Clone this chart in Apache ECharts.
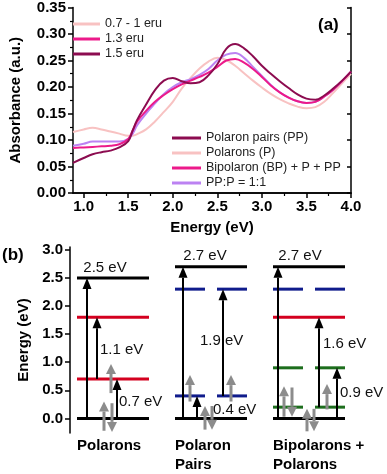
<!DOCTYPE html>
<html>
<head>
<meta charset="utf-8">
<script src="https://cdn.jsdelivr.net/npm/echarts@6/dist/echarts.min.js"></script>
<style>
html, body { margin: 0; padding: 0; background: #fff; }
#chart { width: 387px; height: 474px; }
</style>
</head>
<body>
<div id="chart"></div>
<script>
// (a) absorbance spectra
var energy = [0.88, 1.0, 1.1, 1.2, 1.3, 1.4, 1.5, 1.55, 1.6, 1.7, 1.8, 1.9, 2.0, 2.1, 2.2, 2.3, 2.4, 2.5, 2.6, 2.7, 2.8, 2.9, 3.0, 3.1, 3.2, 3.3, 3.4, 3.5, 3.6, 3.7, 3.8, 3.9, 4.0]
var ppAbs = [0.057, 0.066, 0.073, 0.077, 0.080, 0.086, 0.098, 0.118, 0.138, 0.167, 0.194, 0.212, 0.217, 0.211, 0.207, 0.209, 0.222, 0.243, 0.272, 0.281, 0.273, 0.258, 0.240, 0.225, 0.211, 0.198, 0.186, 0.178, 0.176, 0.184, 0.197, 0.212, 0.229]
var pAbs = [0.115, 0.120, 0.123, 0.120, 0.116, 0.112, 0.108, 0.108, 0.111, 0.120, 0.135, 0.153, 0.172, 0.197, 0.217, 0.235, 0.248, 0.255, 0.251, 0.240, 0.226, 0.212, 0.199, 0.187, 0.177, 0.169, 0.163, 0.160, 0.162, 0.172, 0.189, 0.207, 0.225]
var bpAbs = [0.085, 0.086, 0.087, 0.088, 0.089, 0.092, 0.102, 0.118, 0.135, 0.155, 0.172, 0.185, 0.196, 0.205, 0.212, 0.219, 0.227, 0.238, 0.250, 0.253, 0.246, 0.234, 0.219, 0.203, 0.190, 0.180, 0.173, 0.170, 0.172, 0.182, 0.195, 0.211, 0.229]
var mixAbs = [0.089, 0.093, 0.097, 0.097, 0.097, 0.097, 0.102, 0.112, 0.128, 0.150, 0.169, 0.187, 0.200, 0.209, 0.215, 0.223, 0.234, 0.250, 0.261, 0.264, 0.255, 0.238, 0.221, 0.204, 0.190, 0.180, 0.173, 0.170, 0.172, 0.182, 0.195, 0.211, 0.229]
var xTicks = [1.0, 1.5, 2.0, 2.5, 3.0, 3.5, 4.0]
var xMinorTicks = [1.25, 1.75, 2.25, 2.75, 3.25, 3.75]
var doseNames = ['0.7 - 1 eru', '1.3 eru', '1.5 eru']

// (b) energy level diagram
var groupNames = ['Polarons', 'Polaron\nPairs', 'Bipolarons +\nPolarons']
var eTicks = [0, 0.5, 1.0, 1.5, 2.0, 2.5, 3.0]
// [group, energy, kind]  k black, r red, b blue (split), g green (split)
var levels = [
  [0, 0, 'k'], [0, 0.7, 'r'], [0, 1.8, 'r'], [0, 2.5, 'k'],
  [1, 0, 'k'], [1, 0.4, 'b'], [1, 2.3, 'b'], [1, 2.7, 'k'],
  [2, 0, 'k'], [2, 0.2, 'g'], [2, 0.9, 'g'], [2, 1.8, 'r'], [2, 2.3, 'b'], [2, 2.7, 'k']
]
// [group, from, to, label]
var transitions = [
  [0, 0, 2.5, '2.5 eV'], [0, 0.7, 1.8, '1.1 eV'], [0, 0, 0.7, '0.7 eV'],
  [1, 0, 2.7, '2.7 eV'], [1, 0, 0.4, '0.4 eV'], [1, 0.4, 2.3, '1.9 eV'],
  [2, 0, 2.7, '2.7 eV'], [2, 0.2, 1.8, '1.6 eV'], [2, 0, 0.9, '0.9 eV']
]
// spin arrows [group, from, to]
var spins = [
  [0, -0.22, 0.30], [0, 0.27, -0.24], [0, 0.45, 0.97],
  [1, 0.30, 0.77], [1, -0.20, 0.22], [1, 0.22, -0.20], [1, 0.30, 0.77],
  [2, 0.03, 0.57], [2, 0.55, 0.03], [2, -0.23, 0.17], [2, 0.17, -0.23], [2, 0.16, 0.61]
]

// layout of the diagram (x units of the hidden axis)
var colStart = [7, 105, 203]
var colWidth = 72
var splitWidth = 30
var transX = [10, 20, 40, 8, 22, 48, 5, 46, 64]
var spinX = [27, 35, 34, 15, 30, 37, 56, 11, 19, 34, 41, 54]
var labelAt = [
  [28, 2.5, 'top'], [23, 1.22, 'right'], [42, 0.30, 'right'],
  [30, 2.7, 'top'], [38, 0.16, 'right'], [25, 1.38, 'right'],
  [27, 2.7, 'top'], [50, 1.33, 'right'], [67, 0.45, 'right']
]
var levelColors = { k: '#000000', r: '#d4001f', b: '#101c8c', g: '#1d6e1d' }

var cMaroon = '#8c0c50'
var cPink = '#ec1a8a'
var cLight = '#f8c2c2'
var cViolet = '#bc82f2'
var font = 'Liberation Sans, Arial, sans-serif'

function pairs(ys) {
  return energy.map(function (e, i) { return [e, ys[i]] })
}

var levelData = []
levels.forEach(function (l) {
  var x0 = colStart[l[0]]
  var col = levelColors[l[2]]
  if (l[2] === 'b' || l[2] === 'g') {
    levelData.push({ value: [x0, x0 + splitWidth, l[1]], itemStyle: { color: col } })
    levelData.push({ value: [x0 + colWidth - splitWidth, x0 + colWidth, l[1]], itemStyle: { color: col } })
  } else {
    levelData.push({ value: [x0, x0 + colWidth, l[1]], itemStyle: { color: col } })
  }
})
var transData = transitions.map(function (t, i) { return [colStart[t[0]] + transX[i], t[1], t[2]] })
var spinData = spins.map(function (s, i) { return [colStart[s[0]] + spinX[i], s[1], s[2]] })
var labelData = transitions.map(function (t, i) { return [colStart[t[0]] + labelAt[i][0], labelAt[i][1]] })

function arrowItem(color, lw, hl, hw) {
  return function (params, api) {
    var a = api.coord([api.value(0), api.value(1)])
    var b = api.coord([api.value(0), api.value(2)])
    var d = b[1] < a[1] ? -1 : 1
    var base = b[1] - d * hl
    return {
      type: 'group',
      children: [
        { type: 'line', shape: { x1: a[0], y1: a[1], x2: b[0], y2: base }, style: { stroke: color, lineWidth: lw } },
        { type: 'polygon', shape: { points: [[b[0] - hw, base], [b[0] + hw, base], [b[0], b[1]]] }, style: { fill: color } }
      ]
    }
  }
}

var chart = echarts.init(document.getElementById('chart'))
var boldLabel = { color: '#000', fontSize: 15, fontWeight: 'bold', fontFamily: font }
var blackLine = { lineStyle: { color: '#000', width: 1.5 } }

chart.setOption({
  animation: false,
  grid: [
    { left: 69, top: 7, width: 282, height: 186 },
    { left: 70, top: 247, width: 317, height: 190 }
  ],
  legend: [
    {
      data: doseNames, orient: 'vertical', left: 73, top: 17, padding: 0, icon: 'rect',
      itemWidth: 27, itemHeight: 3, itemGap: 1, selectedMode: false,
      textStyle: { fontSize: 12.5, color: '#222', fontFamily: font, lineHeight: 14 }
    },
    {
      data: ['Polaron pairs (PP)', 'Polarons (P)', 'Bipolaron (BP) + P + PP', 'PP:P = 1:1'],
      orient: 'vertical', left: 172, top: 131, padding: 0, icon: 'rect',
      itemWidth: 29, itemHeight: 3, itemGap: 1, selectedMode: false,
      textStyle: { fontSize: 12.5, color: '#222', fontFamily: font, lineHeight: 14 }
    }
  ],
  xAxis: [
    {
      gridIndex: 0, type: 'value', min: 0.88, max: 4.0,
      name: 'Energy (eV)', nameLocation: 'middle', nameGap: 27,
      nameTextStyle: { color: '#000', fontSize: 15, fontWeight: 'bold', fontFamily: font },
      axisLine: blackLine,
      axisTick: { customValues: xTicks, length: 5, lineStyle: { color: '#000', width: 1.5 } },
      axisLabel: Object.assign({ customValues: xTicks, margin: 6, formatter: function (v) { return v.toFixed(1) } }, boldLabel),
      splitLine: { show: false }
    },
    {
      gridIndex: 0, type: 'value', min: 0.88, max: 4.0, position: 'top',
      axisLine: blackLine,
      axisTick: { customValues: xTicks, inside: true, length: 4, lineStyle: { color: '#000', width: 1.5 } },
      axisLabel: { show: false }, splitLine: { show: false }
    },
    {
      gridIndex: 0, type: 'value', min: 0.88, max: 4.0, position: 'bottom',
      axisLine: { show: false },
      axisTick: { customValues: xMinorTicks, length: 3, lineStyle: { color: '#000', width: 1.2 } },
      axisLabel: { show: false }, splitLine: { show: false }
    },
    {
      gridIndex: 1, type: 'value', min: 0, max: 317,
      axisLine: { show: false }, axisTick: { show: false }, splitLine: { show: false },
      axisLabel: Object.assign({
        customValues: colStart, margin: 3, align: 'left', lineHeight: 19,
        formatter: function (v) { return groupNames[colStart.indexOf(v)] || '' }
      }, boldLabel)
    }
  ],
  yAxis: [
    {
      gridIndex: 0, type: 'value', min: 0, max: 0.35, interval: 0.05,
      name: 'Absorbance (a.u.)', nameLocation: 'middle', nameGap: 50,
      nameTextStyle: { color: '#000', fontSize: 15, fontWeight: 'bold', fontFamily: font },
      axisLine: blackLine,
      axisTick: { length: 5, lineStyle: { color: '#000', width: 1.5 } },
      minorTick: { show: true, splitNumber: 2, length: 3, lineStyle: { color: '#000', width: 1.2 } },
      axisLabel: Object.assign({ margin: 7, formatter: function (v) { return v.toFixed(2) } }, boldLabel),
      splitLine: { show: false }, minorSplitLine: { show: false }
    },
    {
      gridIndex: 0, type: 'value', min: 0, max: 0.35, interval: 0.05, position: 'right',
      axisLine: blackLine,
      axisTick: { inside: true, length: 4, lineStyle: { color: '#000', width: 1.5 } },
      axisLabel: { show: false }, splitLine: { show: false }
    },
    {
      gridIndex: 1, type: 'value', min: -0.26, max: 3.05,
      name: 'Energy (eV)', nameLocation: 'middle', nameGap: 38,
      nameTextStyle: { color: '#000', fontSize: 15, fontWeight: 'bold', fontFamily: font },
      axisLine: blackLine,
      axisTick: { customValues: eTicks, length: 5, lineStyle: { color: '#000', width: 1.5 } },
      axisLabel: Object.assign({ customValues: eTicks, margin: 7, formatter: function (v) { return v.toFixed(1) } }, boldLabel),
      splitLine: { show: false }
    }
  ],
  graphic: [
    { type: 'text', left: 318, top: 17, style: { text: '(a)', font: 'bold 17px ' + font, fill: '#000' } },
    { type: 'text', left: 2, top: 247, style: { text: '(b)', font: 'bold 17px ' + font, fill: '#000' } }
  ],
  series: [
    { name: doseNames[0], type: 'line', data: [], color: cLight },
    { name: doseNames[1], type: 'line', data: [], color: cPink },
    { name: doseNames[2], type: 'line', data: [], color: cMaroon },
    { name: 'Polarons (P)', type: 'line', data: pairs(pAbs), smooth: 0.4, showSymbol: false, color: cLight, lineStyle: { width: 2, color: cLight } },
    { name: 'PP:P = 1:1', type: 'line', data: pairs(mixAbs), smooth: 0.4, showSymbol: false, color: cViolet, lineStyle: { width: 2, color: cViolet } },
    { name: 'Bipolaron (BP) + P + PP', type: 'line', data: pairs(bpAbs), smooth: 0.4, showSymbol: false, color: cPink, lineStyle: { width: 2, color: cPink } },
    { name: 'Polaron pairs (PP)', type: 'line', data: pairs(ppAbs), smooth: 0.4, showSymbol: false, color: cMaroon, lineStyle: { width: 2, color: cMaroon } },
    {
      type: 'custom', xAxisIndex: 3, yAxisIndex: 2, data: levelData, silent: true,
      renderItem: function (params, api) {
        var a = api.coord([api.value(0), api.value(2)])
        var b = api.coord([api.value(1), api.value(2)])
        return { type: 'line', shape: { x1: a[0], y1: a[1], x2: b[0], y2: b[1] }, style: { stroke: api.visual('color'), lineWidth: 3 } }
      }
    },
    { type: 'custom', xAxisIndex: 3, yAxisIndex: 2, data: spinData, silent: true, renderItem: arrowItem('#8c8c8c', 3, 10, 5) },
    { type: 'custom', xAxisIndex: 3, yAxisIndex: 2, data: transData, silent: true, z: 3, renderItem: arrowItem('#000000', 2, 11, 4.5) },
    {
      type: 'custom', xAxisIndex: 3, yAxisIndex: 2, data: labelData, silent: true, z: 4,
      renderItem: function (params, api) {
        var p = api.coord([api.value(0), api.value(1)])
        var top = labelAt[params.dataIndex][2] === 'top'
        return {
          type: 'text', x: p[0], y: top ? p[1] - 3 : p[1],
          style: {
            text: transitions[params.dataIndex][3], font: '15px ' + font, fill: '#111',
            align: top ? 'center' : 'left', verticalAlign: top ? 'bottom' : 'middle'
          }
        }
      }
    }
  ]
})
</script>
</body>
</html>
